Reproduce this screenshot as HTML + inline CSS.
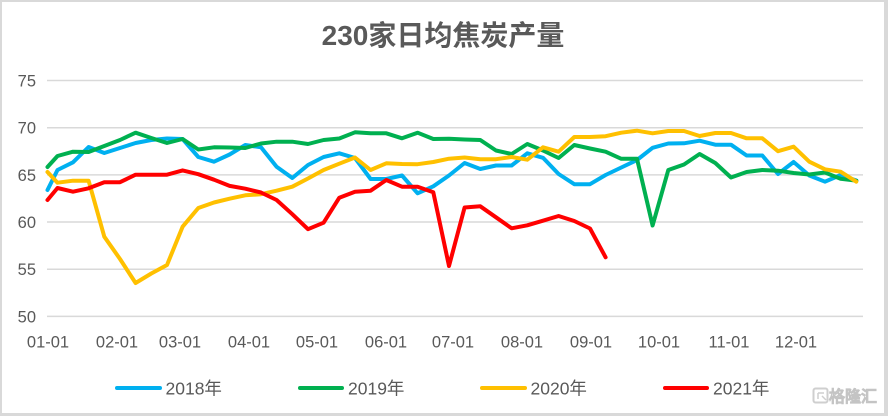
<!DOCTYPE html>
<html><head><meta charset="utf-8"><style>
html,body{margin:0;padding:0;background:#d9d9d9;}
svg{display:block;}
text{font-family:"Liberation Sans","Noto Sans CJK SC",sans-serif;fill:#595959;}
</style></head><body>
<svg width="888" height="416" viewBox="0 0 888 416" xmlns="http://www.w3.org/2000/svg">
<rect x="0" y="0" width="888" height="416" fill="#d9d9d9"/>
<rect x="2" y="2" width="882" height="411" fill="#ffffff"/>
<text x="443" y="45" text-anchor="middle" font-size="28" font-weight="bold">230家日均焦炭产量</text>
<g stroke="#d9d9d9" stroke-width="1.5">
<line x1="47" y1="80.5" x2="863" y2="80.5"/>
<line x1="47" y1="127.7" x2="863" y2="127.7"/>
<line x1="47" y1="174.9" x2="863" y2="174.9"/>
<line x1="47" y1="222" x2="863" y2="222"/>
<line x1="47" y1="269.2" x2="863" y2="269.2"/>
<line x1="47" y1="316.4" x2="863" y2="316.4"/>
</g>
<g font-size="16.5" text-anchor="end">
<text x="36" y="86.5">75</text>
<text x="36" y="133.7">70</text>
<text x="36" y="180.9">65</text>
<text x="36" y="228">60</text>
<text x="36" y="275.2">55</text>
<text x="36" y="322.4">50</text>
</g>
<g font-size="16.5" text-anchor="middle">
<text x="48" y="347.5">01-01</text>
<text x="117" y="347.5">02-01</text>
<text x="180" y="347.5">03-01</text>
<text x="249" y="347.5">04-01</text>
<text x="317" y="347.5">05-01</text>
<text x="386" y="347.5">06-01</text>
<text x="453" y="347.5">07-01</text>
<text x="522" y="347.5">08-01</text>
<text x="591" y="347.5">09-01</text>
<text x="659" y="347.5">10-01</text>
<text x="729" y="347.5">11-01</text>
<text x="796" y="347.5">12-01</text>
</g>
<g fill="none" stroke-width="4" stroke-linejoin="round" stroke-linecap="round">
<polyline stroke="#00B0F0" points="47.5,190 57.5,170 73,162.3 88.6,147 104.3,153 120,148 135.6,143 151.3,140 167,138.5 182.6,139 198.3,157 214,161.7 229.6,154.5 245.3,145 261,147.3 276.6,166.7 292.3,178 308,165 323.6,157 339.3,153.3 355,158 370.6,179 386.3,179 402,175.5 417.6,193.3 433.3,186.3 449,175.5 464.6,163 480.3,169 496,165.5 511.6,165.5 527.3,153.3 543,157.8 558.6,174 574.3,184.2 590,184.2 605.6,175 621.3,167.5 637,160 652.6,147.8 668.3,143.5 684,143.3 699.6,140.7 715.3,144.7 731,144.7 746.6,155.5 762.3,155.5 778,174 793.6,162 809.3,175.5 825,181.7 840.6,175 856.3,180.5"/>
<polyline stroke="#00B050" points="47.5,167 57.5,156 73,151.7 88.6,152 104.3,146 120,140 135.6,132.7 151.3,138 167,143 182.6,139 198.3,149.5 214,147.3 229.6,147.5 245.3,148 261,143.5 276.6,141.7 292.3,141.7 308,144 323.6,140 339.3,138.5 355,132.3 370.6,133.3 386.3,133.3 402,138.3 417.6,132.7 433.3,139 449,138.7 464.6,139.5 480.3,140 496,150.5 511.6,154 527.3,144 543,150.5 558.6,158 574.3,145 590,148.5 605.6,151.7 621.3,158.8 637,158.8 652.6,225.5 668.3,170 684,164.5 699.6,154 715.3,163 731,177.5 746.6,172 762.3,170 778,170.7 793.6,173 809.3,174.5 825,172.5 840.6,178.8 856.3,180.7"/>
<polyline stroke="#FFC000" points="47.5,172 57.5,182.7 73,180.7 88.6,180.7 104.3,236.7 120,259 135.6,283 151.3,273.5 167,265 182.6,226.7 198.3,208 214,202.5 229.6,198.7 245.3,195.3 261,194.2 276.6,190.7 292.3,186.7 308,178.5 323.6,170 339.3,163.7 355,157.5 370.6,170 386.3,163.3 402,164 417.6,164.2 433.3,162 449,158.7 464.6,157.5 480.3,159.2 496,159.2 511.6,157 527.3,159.7 543,147.3 558.6,151.7 574.3,137 590,137 605.6,136.2 621.3,132.7 637,130.7 652.6,133.3 668.3,131 684,131 699.6,136 715.3,133 731,133 746.6,138.3 762.3,138.3 778,151.2 793.6,146.7 809.3,161.7 825,169.3 840.6,171.7 856.3,181.7"/>
<polyline stroke="#FF0000" points="47.5,200 57.5,188 73,191.7 88.6,188.3 104.3,182.2 120,182.2 135.6,174.7 151.3,174.7 167,174.7 182.6,170.4 198.3,174.2 214,179.7 229.6,185.9 245.3,188.7 261,192.5 276.6,200 292.3,214.2 308,229.2 323.6,222.7 339.3,197.7 355,191.7 370.6,190.7 386.3,180 402,186.7 417.6,186.7 433.3,192.3 449,266 464.6,207.5 480.3,206.3 496,217.3 511.6,228.3 527.3,225.3 543,220.7 558.6,216 574.3,221 590,228.5 605.6,257.3"/>
</g>
<g stroke-width="4" stroke-linecap="round">
<line x1="117" y1="388" x2="160" y2="388" stroke="#00B0F0"/>
<line x1="300" y1="388" x2="342" y2="388" stroke="#00B050"/>
<line x1="482" y1="388" x2="525" y2="388" stroke="#FFC000"/>
<line x1="665" y1="388" x2="707" y2="388" stroke="#FF0000"/>
</g>
<g font-size="17.5">
<text x="165.5" y="394.5">2018年</text>
<text x="348" y="394.5">2019年</text>
<text x="530.5" y="394.5">2020年</text>
<text x="713" y="394.5">2021年</text>
</g>
<g>
<rect x="813.5" y="388.5" width="14" height="14" rx="2" fill="none" stroke="#cfcfcf" stroke-width="2"/>
<path d="M818 393 h6 M818 393 v6 M822 396 l4 4" fill="none" stroke="#cfcfcf" stroke-width="1.5"/>
<text x="829" y="402" font-size="16" style="fill:#ffffff;stroke:#c4c4c4;stroke-width:1.2">格隆汇</text>
</g>
</svg>
</body></html>
